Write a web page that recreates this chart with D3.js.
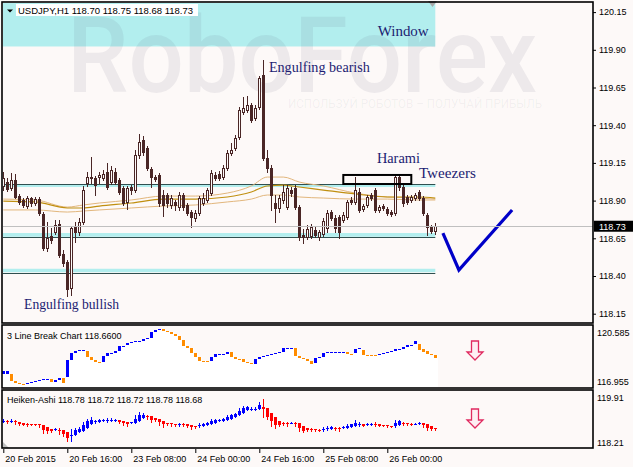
<!DOCTYPE html>
<html><head><meta charset="utf-8">
<script src="https://cdn.jsdelivr.net/npm/d3@7"></script>
<style>html,body{margin:0;padding:0;background:#fdf9f8;}svg{display:block}</style>
</head><body><svg id="c" width="633" height="467"></svg>
<script>
// ---------- DATA ----------
const openP=[118.997,119.023,118.983,119.036,118.930,118.904,118.864,118.917,118.884,118.910,
118.811,118.586,118.665,118.692,118.745,118.546,118.493,118.320,118.731,118.692,
118.758,119.017,119.050,119.050,119.056,119.050,119.090,119.023,119.090,119.036,
118.983,118.891,118.990,118.970,119.202,119.302,119.249,119.109,119.056,119.070,
118.937,118.937,118.871,118.891,118.857,118.937,118.871,118.824,118.784,118.818,
118.884,118.904,118.950,119.070,119.076,119.056,119.116,119.216,119.249,119.322,
119.487,119.501,119.534,119.448,119.521,119.733,119.182,119.116,118.884,118.851,
118.904,118.857,118.970,118.983,118.857,118.672,118.658,118.665,118.705,118.658,
118.678,118.718,118.824,118.784,118.791,118.771,118.791,118.904,118.891,118.957,
118.844,118.871,118.937,118.970,118.838,118.864,118.844,118.824,118.818,119.056,
118.990,118.924,118.904,118.917,118.957,118.917,118.804,118.725,118.70];
const highP=[119.090,119.050,119.083,119.076,118.944,118.917,118.930,118.924,118.924,118.924,
118.824,118.758,118.718,118.771,118.771,118.572,118.506,118.731,118.758,118.784,
118.997,119.090,119.189,119.063,119.090,119.103,119.149,119.129,119.116,119.050,
118.997,118.997,119.003,119.235,119.341,119.328,119.262,119.123,119.070,119.083,
118.970,118.950,118.937,118.904,118.957,118.950,118.884,118.838,118.838,118.930,
118.950,118.983,119.103,119.090,119.096,119.136,119.235,119.282,119.335,119.521,
119.587,119.593,119.547,119.534,119.726,119.832,119.235,119.136,118.937,118.937,
119.003,119.003,118.990,119.003,118.871,118.712,118.738,118.745,118.725,118.705,
118.784,118.838,118.838,118.804,118.804,118.824,118.904,118.924,119.056,118.983,
118.877,118.937,118.950,118.983,118.871,118.877,118.857,118.838,119.070,119.070,
119.003,118.937,118.937,118.950,118.970,118.930,118.818,118.738,118.75];
const lowP=[118.970,118.964,118.970,118.917,118.877,118.857,118.851,118.864,118.871,118.804,
118.572,118.566,118.619,118.678,118.526,118.466,118.267,118.274,118.625,118.672,
118.745,118.997,119.017,118.937,119.017,119.036,118.977,119.010,119.010,118.944,
118.871,118.844,118.944,118.957,119.182,119.202,119.103,118.990,119.030,118.864,
118.798,118.857,118.851,118.838,118.838,118.838,118.804,118.725,118.765,118.804,
118.871,118.891,118.937,119.036,119.036,119.043,119.103,119.202,119.235,119.308,
119.474,119.487,119.421,119.434,119.507,119.169,119.090,118.838,118.758,118.824,
118.884,118.844,118.930,118.844,118.639,118.619,118.645,118.652,118.658,118.639,
118.665,118.692,118.771,118.692,118.652,118.758,118.778,118.877,118.877,118.824,
118.831,118.857,118.904,118.824,118.824,118.838,118.804,118.798,118.804,118.970,
118.864,118.877,118.891,118.904,118.904,118.804,118.672,118.685,118.68];
const closeP=[119.050,118.977,119.036,118.924,118.891,118.871,118.917,118.884,118.910,118.818,
118.586,118.652,118.639,118.738,118.539,118.486,118.314,118.718,118.692,118.758,
118.970,119.056,119.056,119.003,119.070,119.076,118.990,119.103,119.023,118.957,
118.884,118.983,118.970,119.202,119.288,119.222,119.116,119.056,119.043,118.884,
118.871,118.884,118.917,118.871,118.937,118.857,118.818,118.791,118.818,118.917,
118.917,118.970,119.083,119.050,119.050,119.116,119.216,119.235,119.315,119.501,
119.514,119.534,119.434,119.514,119.713,119.182,119.116,118.937,118.851,118.917,
118.957,118.983,118.950,118.857,118.658,118.658,118.712,118.725,118.672,118.692,
118.765,118.818,118.784,118.718,118.692,118.804,118.891,118.891,118.970,118.838,
118.864,118.924,118.917,118.838,118.857,118.851,118.818,118.811,119.056,118.990,
118.884,118.891,118.924,118.937,118.917,118.818,118.725,118.698,118.73];

// moving averages read at sample bars
const maIdx=[0,8,16,20,24,32,40,48,56,62,66,70,74,80,88,96,104,108];
const maDark=[118.897,118.891,118.851,118.851,118.864,118.884,118.910,118.910,118.924,118.957,118.997,119.003,118.990,118.970,118.944,118.924,118.924,118.917];
const maUpper=[118.910,118.904,118.857,118.871,118.884,118.904,118.930,118.930,118.950,118.997,119.056,119.056,119.023,118.997,118.950,118.924,118.917,118.910];
const maLower=[118.838,118.838,118.824,118.831,118.838,118.851,118.864,118.871,118.891,118.910,118.937,118.937,118.924,118.917,118.910,118.910,118.904,118.904];

// 3 Line Break bricks (open, close)
const lbOpen=[117.53,117.53,117.53,117.01,116.86,116.79,116.79,116.86,116.93,117.01,
117.08,117.16,117.16,116.93,117.08,117.23,117.31,118.57,119.10,119.24,
119.32,119.24,118.80,118.57,118.42,118.42,118.87,119.10,119.10,119.24,
119.62,119.69,119.84,119.91,119.99,119.99,120.14,120.21,120.66,120.81,
120.88,120.73,120.66,120.51,120.36,120.06,119.62,119.47,119.10,118.80,
118.50,118.50,118.50,118.80,119.02,119.02,119.02,119.17,118.80,118.65,
118.65,118.42,118.35,118.28,118.65,118.80,118.87,118.95,119.02,119.10,
119.17,119.47,119.47,119.47,118.87,118.72,118.65,118.50,118.35,118.72,
118.80,119.10,119.17,119.17,119.17,119.17,119.17,119.02,119.10,119.39,
119.32,118.95,118.95,118.95,118.95,119.02,119.10,119.17,119.24,119.39,
119.39,119.54,119.69,119.77,119.77,119.39,119.24,119.02,118.95];
const lbClose=[117.75,117.75,117.01,116.86,116.79,116.79,116.86,116.93,117.01,117.08,
117.16,117.16,116.93,117.08,117.23,116.86,118.57,119.10,119.24,119.32,
119.32,118.80,118.57,118.42,118.35,118.87,119.10,119.10,119.24,119.62,
119.62,119.84,119.91,119.99,119.99,120.14,120.21,120.66,120.81,120.88,
120.73,120.66,120.51,120.36,120.06,119.62,119.47,119.10,118.80,118.50,
118.50,118.42,118.80,119.02,119.02,119.02,119.17,118.80,118.65,118.65,
118.42,118.35,118.28,118.65,118.80,118.87,118.95,119.02,119.10,119.17,
119.47,119.47,119.47,118.87,118.72,118.65,118.50,118.28,118.72,118.80,
119.10,119.17,119.17,119.17,119.17,119.17,119.02,118.95,119.39,119.47,
118.95,118.95,118.95,118.95,119.02,119.10,119.17,119.24,119.39,119.39,
119.54,119.69,119.69,119.99,119.32,119.17,119.02,118.95,118.72];

const priceTicks=[120.15,119.90,119.65,119.40,119.15,118.90,118.65,118.40,118.15];
const lbTicks=[120.585,116.955];
const haTicks=[119.91,118.21];
const timeIdx=[0,16,32,48,64,80,96];
const timeLabels=["20 Feb 2015","20 Feb 16:00","23 Feb 08:00","24 Feb 00:00","24 Feb 16:00","25 Feb 08:00","26 Feb 00:00"];

const levelLine=[119.010,118.658,118.423];
const levelBandHi=[119.010,118.685,118.448];
const levelBandLo=[118.990,118.660,118.425];
const windowLow=119.922;
const lastPrice=118.73;
const haramiIdx=[85,102], haramiPrice=[119.07,119.01];
const checkIdx=[109.9,113.9,127.2], checkPrice=[118.685,118.440,118.838];
const notes=[
 {t:"Window",i:93.6,p:119.99,w:51},
 {t:"Engulfing bearish",i:66.4,p:119.755,w:101},
 {t:"Harami",i:93.4,p:119.150,w:43},
 {t:"Tweezers",i:103.9,p:119.050,w:57},
 {t:"Engulfing bullish",i:5.2,p:118.180,w:95}
];
const header="USDJPY,H1  118.70 118.75 118.68 118.73";
const lbLabel="3 Line Break Chart 118.6600";
const haLabel="Heiken-Ashi 118.78 118.72 118.72 118.78 118.68";

// ---------- DRAW ----------
const svg=d3.select('#c');
const BG="#fdf9f8", CANDLE="#4a2626", CYAN="#b2eeee", LINE="#2f4f4f";
const R=593;
const n=closeP.length;
const x=d3.scaleLinear().domain([0,n-1]).range([3.3,435.3]);
const y=d3.scaleLinear().domain([118.15,120.15]).range([313.7,12.1]);
const y2=d3.scaleLinear().domain([116.955,120.585]).range([381.7,333.0]);
const y3=d3.scaleLinear().domain([118.21,119.91]).range([442.7,397.3]);
const px=i=>Math.round(x(i))+0.5;

svg.append('rect').attr('width',633).attr('height',467).attr('fill',BG);
const defs=svg.append('defs');
defs.append('clipPath').attr('id','cm').append('rect').attr('x',3).attr('y',3).attr('width',590).attr('height',319);
const gm=svg.append('g').attr('clip-path','url(#cm)');

// window band
gm.append('rect').attr('x',3).attr('y',0).attr('width',x(n-1)-3).attr('height',y(windowLow)).attr('fill',CYAN);

// watermark
gm.append('text').attr('x',67).attr('y',92).attr('font-family','Roboto, "Liberation Sans", sans-serif')
 .attr('font-weight',500).attr('font-size',106).attr('textLength',470).attr('lengthAdjust','spacingAndGlyphs')
 .attr('fill','#5a5a72').attr('fill-opacity',0.095).text('RoboForex');
gm.append('text').attr('x',288).attr('y',108).attr('font-family','Roboto, "Liberation Sans", sans-serif')
 .attr('font-size',12.5).attr('textLength',254).attr('lengthAdjust','spacingAndGlyphs')
 .attr('fill','#5a5a72').attr('fill-opacity',0.07).text('ИСПОЛЬЗУЙ РОБОТОВ – ПОЛУЧАЙ ПРИБЫЛЬ');

// level bands and lines
levelLine.forEach((p,j)=>{
  gm.append('rect').attr('x',3).attr('width',x(n-1)-3)
    .attr('y',y(levelBandHi[j])).attr('height',Math.max(2,y(levelBandLo[j])-y(levelBandHi[j])))
    .attr('fill',CYAN);
  const yy=Math.round(y(p))+0.5;
  gm.append('line').attr('x1',3).attr('x2',x(n-1)).attr('y1',yy).attr('y2',yy)
    .attr('stroke',LINE).attr('stroke-width',1.2);
});

// moving averages
const maLine=arr=>d3.line().x((d,k)=>x(maIdx[k])).y(d=>y(d)).curve(d3.curveMonotoneX)(arr);
gm.append('path').attr('d',maLine(maLower)).attr('fill','none').attr('stroke','#e2b67c').attr('stroke-width',1);
gm.append('path').attr('d',maLine(maUpper)).attr('fill','none').attr('stroke','#e2b67c').attr('stroke-width',1);
gm.append('path').attr('d',maLine(maDark)).attr('fill','none').attr('stroke','#c08f10').attr('stroke-width',1.2);

// last price line
const yl=Math.round(y(lastPrice))+0.5;
svg.append('line').attr('x1',3).attr('x2',R).attr('y1',yl).attr('y2',yl).attr('stroke','#c0c0c0').attr('stroke-width',1);

// candles
const cg=gm.append('g').attr('shape-rendering','crispEdges');
d3.range(n).forEach(i=>{
  const cx=px(i);
  cg.append('line').attr('x1',cx).attr('x2',cx).attr('y1',Math.round(y(highP[i]))).attr('y2',Math.round(y(lowP[i]))+1)
    .attr('stroke',CANDLE).attr('stroke-width',1);
  const up=closeP[i]>=openP[i];
  const t=Math.round(y(Math.max(openP[i],closeP[i]))), b=Math.round(y(Math.min(openP[i],closeP[i])));
  cg.append('rect').attr('x',cx-1).attr('y',t+0.5).attr('width',2).attr('height',Math.max(0.01,b-t))
    .attr('fill',up?BG:CANDLE).attr('stroke',CANDLE).attr('stroke-width',1);
});

// annotations
notes.forEach(nt=>{
  gm.append('text').attr('x',x(nt.i)).attr('y',y(nt.p)).attr('font-family','"Liberation Serif","Times New Roman",serif')
   .attr('font-size',15).attr('fill','#1c1c72').attr('textLength',nt.w).attr('lengthAdjust','spacingAndGlyphs').text(nt.t);
});
gm.append('rect').attr('x',x(haramiIdx[0])).attr('y',y(haramiPrice[0])).attr('width',x(haramiIdx[1])-x(haramiIdx[0]))
  .attr('height',y(haramiPrice[1])-y(haramiPrice[0])).attr('fill','none').attr('stroke','#000').attr('stroke-width',2);
gm.append('path').attr('d',d3.line().x((d,k)=>x(checkIdx[k])).y(d=>y(d))(checkPrice))
  .attr('fill','none').attr('stroke','#0000c8').attr('stroke-width',3.2).attr('stroke-linejoin','miter');

// top gray marker
svg.append('polygon').attr('points','428,1 437,1 432.5,7').attr('fill','#a8a8a8');

// header
svg.append('rect').attr('x',16).attr('y',4).attr('width',182).attr('height',12).attr('fill','#fff');
svg.append('polygon').attr('points','7,9.5 13,9.5 10,12.5').attr('fill','#000');
svg.append('text').attr('x',18).attr('y',14).attr('font-family','"Liberation Sans",Arial,sans-serif').attr('font-size',9.5)
  .attr('fill','#000').text(header);

// ---------- 3 line break panel ----------
const g2=svg.append('g').attr('shape-rendering','crispEdges');
d3.range(n).forEach(i=>{
  const top=Math.round(y2(Math.max(lbOpen[i],lbClose[i])));
  g2.append('rect').attr('x',Math.round(x(i))-1.5).attr('y',top).attr('width',4).attr('height',387-top).attr('fill','#ffffff');
});
let lastCol="#0000ff";
d3.range(n).forEach(i=>{
  if(lbClose[i]>lbOpen[i]) lastCol="#0000ff"; else if(lbClose[i]<lbOpen[i]) lastCol="#ff8c00";
  const t=Math.round(y2(Math.max(lbOpen[i],lbClose[i]))), b=Math.round(y2(Math.min(lbOpen[i],lbClose[i])));
  g2.append('rect').attr('x',Math.round(x(i))-1).attr('y',t).attr('width',3).attr('height',Math.max(1,b-t)).attr('fill',lastCol);
});
svg.append('text').attr('x',7).attr('y',338.5).attr('font-family','"Liberation Sans",Arial,sans-serif').attr('font-size',9)
  .attr('fill','#000').text(lbLabel);

// ---------- Heiken-Ashi panel (derived from the candles) ----------
const ha=[];
d3.range(n).forEach(i=>{
  const c=(openP[i]+highP[i]+lowP[i]+closeP[i])/4;
  const o=i===0?(openP[0]+closeP[0])/2:(ha[i-1].o+ha[i-1].c)/2;
  ha.push({o,c,h:Math.max(highP[i],o,c),l:Math.min(lowP[i],o,c)});
});
const g3=svg.append('g').attr('shape-rendering','crispEdges');
ha.forEach((d,i)=>{
  const col=d.c>=d.o?"#0000ff":"#ff0000";
  const cx=px(i);
  g3.append('line').attr('x1',cx).attr('x2',cx).attr('y1',Math.round(y3(d.h))).attr('y2',Math.round(y3(d.l))+1).attr('stroke',col);
  const t=Math.round(y3(Math.max(d.o,d.c))), b=Math.round(y3(Math.min(d.o,d.c)));
  g3.append('rect').attr('x',cx-1.5).attr('y',t).attr('width',3).attr('height',Math.max(1,b-t)).attr('fill',col);
});
svg.append('text').attr('x',7).attr('y',403).attr('font-family','"Liberation Sans",Arial,sans-serif').attr('font-size',9)
  .attr('fill','#000').text(haLabel);
svg.append('polygon').attr('points','3,442 3,448 9,448').attr('fill','#c0c0c0');

// signal arrows
const arrow=(top)=>`M471.5,${top} L478.5,${top} L478.5,${top+11} L483,${top+11} L475,${top+19} L467,${top+11} L471.5,${top+11} Z`;
[341,409].forEach(t=>{
  svg.append('path').attr('d',arrow(t)).attr('fill','#fdeef3').attr('stroke','#e02a60').attr('stroke-width',1.3);
});

// ---------- frames ----------
[[2,2,591,321],[2,325,591,63],[2,390,591,58]].forEach(r=>{
  svg.append('rect').attr('x',r[0]).attr('y',r[1]).attr('width',r[2]).attr('height',r[3])
    .attr('fill','none').attr('stroke','#000').attr('stroke-width',1.6);
});

// ---------- axes ----------
const axStyle=g=>{g.select('.domain').remove();g.selectAll('text').attr('font-family','"Liberation Sans",Arial,sans-serif').attr('font-size',9).attr('fill','#000');g.selectAll('line').attr('stroke','#000');};
svg.append('g').attr('transform',`translate(${R},0)`)
  .call(d3.axisRight(y).tickValues(priceTicks).tickSize(3).tickPadding(3).tickFormat(d3.format('.2f'))).call(axStyle);
svg.append('g').attr('transform',`translate(${R},0)`)
  .call(d3.axisRight(y2).tickValues(lbTicks).tickSize(0).tickPadding(4).tickFormat(d3.format('.3f'))).call(axStyle);
svg.append('g').attr('transform',`translate(${R},0)`)
  .call(d3.axisRight(y3).tickValues(haTicks).tickSize(0).tickPadding(4).tickFormat(d3.format('.2f'))).call(axStyle);
const xa=svg.append('g').attr('transform','translate(0,449)')
  .call(d3.axisBottom(x).tickValues(timeIdx).tickSize(4).tickPadding(3).tickFormat((d,k)=>timeLabels[k])).call(axStyle);
xa.selectAll('text').attr('text-anchor','start').attr('dx',1.5);

// last price label
svg.append('rect').attr('x',594).attr('y',y(lastPrice)-5.5).attr('width',39).attr('height',11).attr('fill','#000');
svg.append('text').attr('x',599).attr('y',y(lastPrice)+3.5).attr('font-family','"Liberation Sans",Arial,sans-serif')
  .attr('font-size',9).attr('fill','#fff').text(lastPrice.toFixed(2));
</script></body></html>
